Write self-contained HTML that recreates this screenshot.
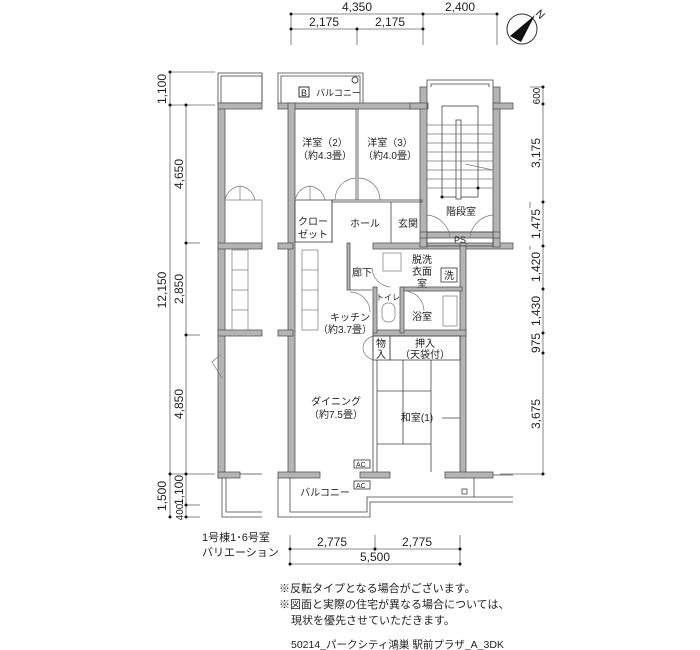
<!DOCTYPE html>
<html><head><meta charset="utf-8"><style>
body{margin:0;background:#fff;}
svg{display:block;font-family:"Liberation Sans","Noto Sans CJK JP",sans-serif;}
.w{fill:#b4b4b4;stroke:#555;stroke-width:0.8}
.l{stroke:#444;stroke-width:0.8;fill:none}
.t{stroke:#777;stroke-width:0.7;fill:none}
.d{stroke:#666;stroke-width:0.8;fill:none}
text{fill:#222}
</style></head><body>
<svg width="700" height="650" viewBox="0 0 700 650">
<!-- top dims -->
<g class="d">
<line x1="291" y1="14" x2="497" y2="14"/><line x1="291" y1="29" x2="423" y2="29"/>
<line x1="291" y1="14" x2="291" y2="45"/><line x1="357" y1="29" x2="357" y2="45"/>
<line x1="423" y1="14" x2="423" y2="45"/><line x1="497" y1="14" x2="497" y2="45"/>
</g>
<g fill="#111"><circle cx="291" cy="14" r="1.5"/><circle cx="423" cy="14" r="1.5"/><circle cx="497" cy="14" r="1.5"/>
<circle cx="291" cy="29" r="1.5"/><circle cx="357" cy="29" r="1.5"/><circle cx="423" cy="29" r="1.5"/></g>
<g font-size="12" text-anchor="middle"><text x="357" y="11">4,350</text><text x="460" y="11">2,400</text>
<text x="324" y="26">2,175</text><text x="390" y="26">2,175</text></g>
<!-- compass -->
<circle cx="522" cy="29" r="15" fill="none" stroke="#333" stroke-width="1"/>
<polygon points="535,15 510,36 521,42" fill="#111"/>
<text x="537" y="15" font-size="11" transform="rotate(45 537 12)">N</text>
<!-- left dims -->
<g class="d">
<line x1="170" y1="72" x2="170" y2="517"/><line x1="186" y1="105" x2="186" y2="517"/>
<line x1="170" y1="72" x2="215" y2="72"/><line x1="170" y1="105" x2="215" y2="105"/>
<line x1="186" y1="243" x2="200" y2="243"/><line x1="186" y1="335" x2="200" y2="335"/>
<line x1="170" y1="474" x2="215" y2="474"/><line x1="186" y1="505" x2="200" y2="505"/><line x1="186" y1="517" x2="200" y2="517"/>
</g>
<g fill="#111"><circle cx="170" cy="72" r="1.5"/><circle cx="170" cy="105" r="1.5"/><circle cx="186" cy="105" r="1.5"/>
<circle cx="186" cy="243" r="1.5"/><circle cx="186" cy="335" r="1.5"/><circle cx="170" cy="474" r="1.5"/><circle cx="186" cy="474" r="1.5"/>
<circle cx="186" cy="505" r="1.5"/><circle cx="170" cy="517" r="1.5"/><circle cx="186" cy="517" r="1.5"/></g>
<g font-size="12" text-anchor="middle">
<text transform="translate(166 89) rotate(-90)">1,100</text>
<text transform="translate(183 174) rotate(-90)">4,650</text>
<text transform="translate(166 290) rotate(-90)">12,150</text>
<text transform="translate(183 289) rotate(-90)">2,850</text>
<text transform="translate(183 404) rotate(-90)">4,850</text>
<text transform="translate(166 496) rotate(-90)">1,500</text>
<text transform="translate(183 490) rotate(-90)">1,100</text>
<text transform="translate(183 512) rotate(-90)" font-size="10">400</text>
</g>
<!-- right dims -->
<g class="d"><line x1="543" y1="87" x2="543" y2="474"/>
<line x1="530" y1="87" x2="543" y2="87"/><line x1="500" y1="474" x2="543" y2="474"/></g>
<g fill="#111"><circle cx="543" cy="87" r="1.5"/><circle cx="543" cy="104" r="1.5"/><circle cx="543" cy="202" r="1.5"/><circle cx="543" cy="246" r="1.5"/><circle cx="543" cy="289" r="1.5"/><circle cx="543" cy="333" r="1.5"/><circle cx="543" cy="353" r="1.5"/><circle cx="543" cy="474" r="1.5"/></g>
<g class="d"><line x1="530" y1="202" x2="530" y2="208"/><line x1="530" y1="246" x2="530" y2="250"/></g>
<g font-size="12" text-anchor="middle">
<text transform="translate(540 96) rotate(-90)" font-size="10">600</text>
<text transform="translate(540 153) rotate(-90)">3,175</text>
<text transform="translate(540 224) rotate(-90)">1,475</text>
<text transform="translate(540 267) rotate(-90)">1,420</text>
<text transform="translate(540 311) rotate(-90)">1,430</text>
<text transform="translate(540 343) rotate(-90)">975</text>
<text transform="translate(540 414) rotate(-90)">3,675</text>
</g>
<!-- balconies top -->
<g class="l">
<rect x="218" y="73" width="44" height="30"/><rect x="221" y="76" width="41" height="27"/>
<polyline points="278,103 278,73 363,73 363,103"/><polyline points="281,103 281,76 360,76 360,103"/>
</g>
<rect x="299" y="87" width="10" height="10" fill="none" stroke="#333"/>
<text x="301" y="96" font-size="9">B</text><text x="316" y="96" font-size="9">バルコニー</text>
<circle cx="355" cy="80" r="3" fill="none" stroke="#444"/>
<!-- walls -->
<g class="w">
<rect x="218" y="103" width="7" height="375"/>
<rect x="218" y="103" width="44" height="6"/>
<rect x="218" y="243" width="44" height="6"/>
<rect x="218" y="330" width="44" height="6"/>
<rect x="218" y="472" width="22" height="6"/>
<rect x="278" y="103" width="150" height="6"/>
<rect x="288" y="103" width="7" height="375"/>
<rect x="278" y="243" width="15" height="6"/>
<rect x="278" y="330" width="15" height="6"/>
<rect x="373" y="243" width="140" height="6"/>
<rect x="460" y="243" width="6" height="235"/>
<rect x="278" y="472" width="42" height="6"/>
<rect x="360" y="472" width="30" height="6"/>
<rect x="445" y="472" width="48" height="6"/>
<rect x="420" y="87" width="7" height="160"/>
<rect x="493" y="87" width="7" height="160"/>
<rect x="410" y="103" width="17" height="6"/><rect x="493" y="103" width="20" height="6"/>
<rect x="373" y="330" width="93" height="6"/>
<rect x="373" y="287" width="4" height="46"/>
<rect x="400" y="287" width="4" height="46"/>
<rect x="404" y="287" width="58" height="4"/>
<rect x="420" y="232" width="80" height="6"/>
<rect x="347" y="243" width="3" height="47"/>
</g>
<!-- thin partitions -->
<g class="l">
<line x1="356" y1="109" x2="356" y2="200"/><line x1="358" y1="109" x2="358" y2="200"/>
<rect x="332" y="200" width="90" height="2"/>
<rect x="295" y="200" width="37" height="42"/>
<line x1="332" y1="200" x2="332" y2="243"/>
<line x1="391" y1="202" x2="391" y2="243"/>
<line x1="350" y1="290" x2="372" y2="290"/>
<line x1="373" y1="336" x2="373" y2="472"/><line x1="377" y1="360" x2="377" y2="472"/>
<rect x="373" y="336" width="17" height="24"/><rect x="390" y="336" width="70" height="24"/>
<line x1="295" y1="109" x2="356" y2="109"/>
<!-- tatami -->
<line x1="403" y1="360" x2="403" y2="444"/><line x1="431" y1="360" x2="431" y2="472"/>
<line x1="377" y1="391" x2="431" y2="391"/><line x1="377" y1="444" x2="431" y2="444"/>
<line x1="442" y1="418" x2="460" y2="418"/>
<!-- stairs -->
<rect x="442" y="106" width="36" height="91"/>
<rect x="456" y="120" width="5" height="79" fill="#fff"/>
<rect x="427" y="232" width="66" height="14"/>
<polyline points="427,87 427,80 493,80 493,87"/><polyline points="431,87 431,84 489,84 489,87"/>
</g>
<g class="t">
<line x1="427" y1="125" x2="493" y2="125"/><line x1="427" y1="134" x2="493" y2="134"/><line x1="427" y1="143" x2="493" y2="143"/>
<line x1="427" y1="152" x2="493" y2="152"/><line x1="427" y1="161" x2="493" y2="161"/><line x1="427" y1="170" x2="493" y2="170"/>
<line x1="427" y1="179" x2="493" y2="179"/><line x1="427" y1="188" x2="493" y2="188"/>
<line x1="465" y1="164" x2="493" y2="170"/>
<!-- kitchen counters -->
<rect x="232" y="250" width="16" height="80"/><rect x="302" y="250" width="16" height="80"/>
<line x1="302" y1="270" x2="318" y2="270"/><line x1="302" y1="290" x2="318" y2="290"/><line x1="302" y1="310" x2="318" y2="310"/>
<line x1="232" y1="270" x2="248" y2="270"/><line x1="232" y1="290" x2="248" y2="290"/><line x1="232" y1="310" x2="248" y2="310"/>
<rect x="443" y="296" width="14" height="30"/>
<rect x="383" y="253" width="18" height="18"/>
<rect x="382" y="303" width="13" height="19" rx="6"/>
</g>
<g fill="#111"><circle cx="442" cy="197" r="1.5"/><circle cx="478" cy="188" r="1.5"/></g>
<!-- doors -->
<g class="t">
<path d="M335 200 A22 22 0 0 1 356 178 L356 200"/><path d="M380 200 A22 22 0 0 0 358 178 L358 200"/>
<path d="M295 200 Q298 188 310 186 L310 200 M325 200 Q322 188 310 186"/>
<path d="M225 200 Q228 188 240 186 L240 200 M255 200 Q252 188 240 186"/>
<rect x="225" y="200" width="37" height="43"/>
<path d="M427 215 A25 25 0 0 1 450 238 M493 215 A25 25 0 0 0 470 238"/>
<path d="M350 292 A20 20 0 0 1 370 312"/><path d="M372 268 A20 20 0 0 0 390 287"/>
<path d="M404 291 A20 20 0 0 1 424 311"/>
<path d="M373 336 Q363 340 363 348 M373 360 Q363 356 363 348"/>
<path d="M220 355 L212 362 L222 378"/>
</g>
<!-- bottom balcony -->
<g class="l">
<polyline points="290,478 290,512 367,512 367,497 513,497"/>
<polyline points="278,478 278,517 370,517 370,502 513,502"/>
<polyline points="222,478 222,517 262,517"/><polyline points="226,478 226,512 262,512"/>
<line x1="474" y1="478" x2="474" y2="497"/>
<line x1="240" y1="474" x2="262" y2="474"/><line x1="493" y1="475" x2="513" y2="475"/>
<rect x="462" y="489" width="5" height="5"/>
</g>
<rect x="354" y="460" width="16" height="8" fill="none" stroke="#333" stroke-width="0.8"/>
<text x="356" y="467" font-size="7">AC</text>
<rect x="354" y="481" width="16" height="8" fill="none" stroke="#333" stroke-width="0.8"/>
<text x="356" y="488" font-size="7">AC</text>
<rect x="441" y="268" width="16" height="14" fill="none" stroke="#333" stroke-width="0.8"/>
<!-- room labels -->
<g font-size="10" text-anchor="middle">
<text x="325" y="146">洋室（2）</text><text x="325" y="159">（約4.3畳）</text>
<text x="390" y="146">洋室（3）</text><text x="390" y="159">（約4.0畳）</text>
<text x="461" y="215">階段室</text>
<text x="460" y="243" font-size="9">PS</text>
<text x="313" y="225">クロー</text><text x="313" y="238">ゼット</text>
<text x="365" y="227">ホール</text><text x="408" y="227">玄関</text>
<text x="362" y="276">廊下</text>
<text x="422" y="263">脱洗</text><text x="422" y="275">衣面</text><text x="422" y="287">室</text>
<text x="449" y="279">洗</text>
<text x="388" y="300" font-size="8">トイレ</text>
<text x="422" y="320">浴室</text>
<text x="350" y="321">キッチン</text><text x="345" y="333">（約3.7畳）</text>
<text x="381" y="347">物</text><text x="381" y="358">入</text>
<text x="425" y="347">押入</text><text x="425" y="358">（天袋付）</text>
<text x="336" y="405">ダイニング</text><text x="336" y="418">（約7.5畳）</text>
<text x="417" y="421">和室(1)</text>
<text x="325" y="496">バルコニー</text>
</g>
<!-- bottom dims -->
<g class="d"><line x1="290" y1="549" x2="460" y2="549"/><line x1="290" y1="564" x2="460" y2="564"/>
<line x1="290" y1="535" x2="290" y2="566"/><line x1="375" y1="535" x2="375" y2="551"/><line x1="460" y1="535" x2="460" y2="566"/></g>
<g fill="#111"><circle cx="290" cy="549" r="1.5"/><circle cx="375" cy="549" r="1.5"/><circle cx="460" cy="549" r="1.5"/><circle cx="290" cy="564" r="1.5"/><circle cx="460" cy="564" r="1.5"/></g>
<g font-size="12" text-anchor="middle"><text x="332" y="546">2,775</text><text x="417" y="546">2,775</text><text x="375" y="561">5,500</text></g>
<g font-size="11"><text x="202" y="541">1号棟1･6号室</text><text x="202" y="556">バリエーション</text>
<text x="279" y="592">※反転タイプとなる場合がございます。</text>
<text x="279" y="608">※図面と実際の住宅が異なる場合については、</text>
<text x="291" y="624">現状を優先させていただきます。</text>
<text x="291" y="648" font-size="10.5">50214_パークシティ鴻巣 駅前プラザ_A_3DK</text></g>
</svg>
</body></html>
